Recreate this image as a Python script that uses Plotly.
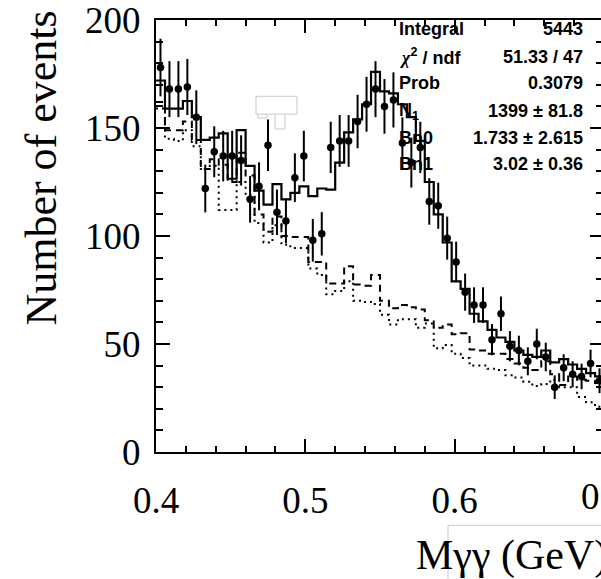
import numpy as np
import plotly.graph_objects as go

# ---------------- data ----------------
bin_lo = 0.4
bin_width = 0.006
n_bins = 50

data_counts = [178, 168, 168, 169, 155, 122, 139, 137, 137, 135,
               117, 123, 142, 111, 107, 127, 137, 98, 101, 141,
               144, 144, 153, 161, 168, 160, 163, 143, 134, 141,
               116, 114, 99, 88, 74, 68, 68, 52, 64, 49,
               47, 42, 50, 44, 30, 39, 36, 35, 41, 33]

total_solid = [172, 159, 159, 162.5, 155, 144.5, 145.5, 147.5, 126.5, 149,
               132.5, 121, 114.5, 124, 117, 120, 123, 118.5, 122, 121.5,
               134, 148, 154, 161, 176, 167, 166, 161, 155, 144,
               125, 110, 97, 79, 75.5, 64, 60.5, 56.5, 53, 51,
               47, 45, 44, 47, 41.5, 43, 40.5, 38.5, 36.5, 35]

bkg_dashed = [162, 149, 149, 153, 144.5, 131, 135.5, 133, 125, 138.5,
              128, 110, 102, 109, 100, 99.5, 99.5, 88, 88, 78,
              78, 86, 77.5, 77, 82, 70, 66.5, 68, 67, 66,
              61, 57.5, 59, 54.5, 55, 47.5, 47, 45.5, 45.5, 43,
              41, 39, 38, 42, 36, 31, 35, 33.5, 33, 32]

bkg_dotted = [159, 145, 144, 149, 141.5, 131, 132.5, 112, 112, 125,
              119, 106, 97, 105, 96, 94.5, 94.5, 85, 82, 73,
              74.5, 79, 70, 69.5, 68.5, 63.5, 59, 61.5, 61.5, 57.5,
              59.5, 48, 49.5, 45.5, 43.5, 40, 40, 38.5, 38, 35.5,
              34.5, 32.5, 30.5, 31.5, 33.5, 30, 30, 25.5, 23, 21]

stats_labels = ["Integral",
                "<span style='font-family:Liberation Serif'><i>χ</i></span><sup>2</sup> / ndf",
                "Prob", "N<sub>1</sub>", "Bn0", "Bn1"]
stats_values = ["5443", "51.33 / 47", "0.3079", "1399 ± 81.8",
                "1.733 ± 2.615", "3.02 ± 0.36"]

x_tick_vals = [0.4, 0.5, 0.6]
x_tick_text = ["0.4", "0.5", "0.6"]
y_tick_vals = [0, 50, 100, 150, 200]
y_tick_text = ["0", "50", "100", "150", "200"]
x_title = "Mγγ (GeV)"
y_title = "Number of events"

# ---------------- geometry ----------------
W, H = 601, 579
L, R, T, B = 156, 0, 16, 127
PW = W - L - R
PH = H - T - B


def fx(px):
    return (px - L) / PW


def fy(py):
    return (H - B - py) / PH


edges = bin_lo + bin_width * np.arange(n_bins + 1)
centers = edges[:-1] + bin_width / 2


def step(vals):
    return list(vals) + [vals[-1]]


fig = go.Figure()

fig.add_trace(go.Scatter(x=edges, y=step(bkg_dotted), mode="lines",
                         line=dict(shape="hv", color="black", width=2, dash="2px,4px"),
                         hoverinfo="skip", showlegend=False))
fig.add_trace(go.Scatter(x=edges, y=step(bkg_dashed), mode="lines",
                         line=dict(shape="hv", color="black", width=2, dash="7px,5px"),
                         hoverinfo="skip", showlegend=False))
fig.add_trace(go.Scatter(x=edges, y=step(total_solid), mode="lines",
                         line=dict(shape="hv", color="black", width=2.2),
                         hoverinfo="skip", showlegend=False))
fig.add_trace(go.Scatter(x=centers, y=data_counts, mode="markers",
                         marker=dict(color="black", size=7.5),
                         error_y=dict(type="data", array=np.sqrt(np.array(data_counts, float)),
                                      width=0, thickness=2, color="black"),
                         showlegend=False))
# invisible trace to anchor the mirror axes
fig.add_trace(go.Scatter(x=[0.45], y=[10], xaxis="x2", yaxis="y2", mode="markers",
                         marker=dict(opacity=0), hoverinfo="skip", showlegend=False))

x_range = [0.4, 0.698]
y_range = [0, 200]
tickfont = dict(family="Liberation Serif", size=37, color="black")

fig.update_layout(
    width=W, height=H,
    margin=dict(l=L, r=R, t=T, b=B, pad=0),
    paper_bgcolor="white", plot_bgcolor="white",
    xaxis=dict(range=x_range, tickmode="array", tickvals=x_tick_vals, ticktext=x_tick_text,
               ticks="inside", ticklen=13, tickwidth=2, tickcolor="black",
               showline=True, linewidth=2, linecolor="black", showgrid=False, zeroline=False,
               tickfont=tickfont, ticklabelstandoff=15, ticklabeloverflow="allow",
               minor=dict(tickmode="linear", tick0=0.4, dtick=0.02, ticks="inside",
                          ticklen=6, tickwidth=2, tickcolor="black", showgrid=False)),
    yaxis=dict(range=y_range, tickmode="array", tickvals=y_tick_vals, ticktext=y_tick_text,
               ticks="inside", ticklen=14, tickwidth=2, tickcolor="black",
               showline=True, linewidth=2, linecolor="black", showgrid=False, zeroline=False,
               tickfont=tickfont, ticklabelstandoff=6, ticklabeloverflow="allow",
               minor=dict(tickmode="linear", tick0=0, dtick=10, ticks="inside",
                          ticklen=7, tickwidth=2, tickcolor="black", showgrid=False)),
    xaxis2=dict(range=x_range, overlaying="x", side="top", tickmode="array",
                tickvals=x_tick_vals, showticklabels=False,
                ticks="inside", ticklen=13, tickwidth=2, tickcolor="black",
                showline=True, linewidth=2, linecolor="black", showgrid=False, zeroline=False,
                minor=dict(tickmode="linear", tick0=0.4, dtick=0.02, ticks="inside",
                           ticklen=6, tickwidth=2, tickcolor="black", showgrid=False)),
    yaxis2=dict(range=y_range, overlaying="y", side="right", tickmode="array",
                tickvals=y_tick_vals, showticklabels=False,
                ticks="inside", ticklen=11, tickwidth=2, tickcolor="black",
                showline=False, showgrid=False, zeroline=False,
                minor=dict(tickmode="linear", tick0=0, dtick=10, ticks="inside",
                           ticklen=5, tickwidth=2, tickcolor="black", showgrid=False)),
)

ann = []
# partial tick label at the cut-off right edge
ann.append(dict(x=fx(604), y=fy(497), xref="paper", yref="paper", text="0.7",
                showarrow=False, xanchor="center", yanchor="middle", font=tickfont))
# axis titles
ann.append(dict(x=fx(414), y=fy(556), xref="paper", yref="paper", text=x_title,
                showarrow=False, xanchor="left", yanchor="middle",
                font=dict(family="Liberation Serif", size=42, color="black")))
ann.append(dict(x=fx(42), y=fy(166), xref="paper", yref="paper", text=y_title,
                showarrow=False, xanchor="center", yanchor="middle", textangle=-90,
                font=dict(family="Liberation Serif", size=44, color="black")))
# stats box
row_y = [25, 53, 80, 108, 135, 161]
sfont = dict(family="Liberation Sans", size=18, color="black")
for lab, val, ry in zip(stats_labels, stats_values, row_y):
    ann.append(dict(x=fx(397), y=fy(ry), xref="paper", yref="paper", text="<b>" + lab + "</b>",
                    showarrow=False, xanchor="left", yanchor="middle", font=sfont))
    ann.append(dict(x=fx(585), y=fy(ry), xref="paper", yref="paper", text="<b>" + val + "</b>",
                    showarrow=False, xanchor="right", yanchor="middle", font=sfont))
fig.update_layout(annotations=ann)


def path(points):
    s = "M %f %f" % (fx(points[0][0]), fy(points[0][1]))
    for p in points[1:]:
        s += " L %f %f" % (fx(p[0]), fy(p[1]))
    return s


shapes = []
gray = dict(color="#c8c8c8", width=1)
shapes.append(dict(type="path", xref="paper", yref="paper",
                   path=path([(256, 93), (297, 93), (297, 111), (256, 111), (256, 93)]), line=gray))
shapes.append(dict(type="path", xref="paper", yref="paper",
                   path=path([(258, 111), (258, 115), (267, 115), (267, 111)]), line=gray))
shapes.append(dict(type="path", xref="paper", yref="paper",
                   path=path([(275, 111), (275, 126), (285, 126), (285, 111)]), line=gray))
shapes.append(dict(type="path", xref="paper", yref="paper",
                   path=path([(448, 580), (448, 526), (602, 526)]), line=gray))
fig.update_layout(shapes=shapes)

fig.write_html("out.html")
